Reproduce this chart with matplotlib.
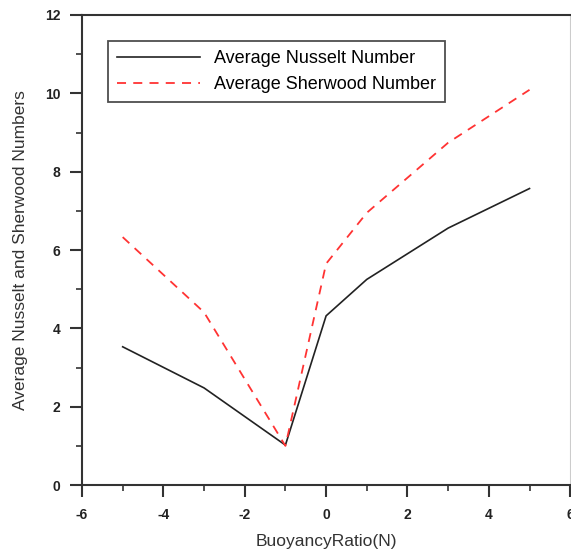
import numpy as np
import matplotlib.pyplot as plt
from matplotlib.ticker import MultipleLocator

# dados
razao_empuxo = [-5, -3, -1, 0, 1, 3, 5]
nusselt = [3.53, 2.48, 1.02, 4.32, 5.25, 6.56, 7.57]
sherwood = [6.33, 4.41, 1.0, 5.65, 6.95, 8.74, 10.09]

xticks = [-6, -4, -2, 0, 2, 4, 6]
yticks = [0, 2, 4, 6, 8, 10, 12]

plt.rcParams['font.family'] = ['Liberation Sans', 'DejaVu Sans']
plt.rcParams['axes.unicode_minus'] = False

fig = plt.figure(figsize=(5.71, 5.55), dpi=100)
ax = fig.add_axes([0.1436, 0.126, 0.855, 0.847])

ax.plot(razao_empuxo, nusselt, color='#222222', lw=1.2,
        label='Average Nusselt Number')
ax.plot(razao_empuxo, sherwood, color='#ff3333', lw=1.3, ls=(0, (5, 4)),
        label='Average Sherwood Number')

ax.set_xlim(-6, 6)
ax.set_ylim(0, 12)
ax.set_xticks(xticks)
ax.set_yticks(yticks)
ax.xaxis.set_minor_locator(MultipleLocator(1))
ax.yaxis.set_minor_locator(MultipleLocator(1))
ax.tick_params(which='major', direction='out', length=8.5, width=1.5,
               labelsize=10, colors='#333333')
ax.tick_params(axis='x', which='major', pad=8)
ax.tick_params(axis='y', which='major', pad=7)
ax.tick_params(which='minor', direction='out', length=4, width=1.2,
               colors='#333333')
for lbl in ax.get_xticklabels() + ax.get_yticklabels():
    lbl.set_fontweight('bold')
    lbl.set_color('#222222')

for lado in ['left', 'bottom', 'top']:
    ax.spines[lado].set_linewidth(1.5)
    ax.spines[lado].set_color('#333333')
ax.spines['right'].set_color('#cccccc')
ax.spines['right'].set_linewidth(0.8)

ax.set_xlabel('BuoyancyRatio(N)', fontsize=12.5, color='#333333', labelpad=9)
ax.set_ylabel('Average Nusselt and Sherwood Numbers', fontsize=12.5,
              color='#333333', labelpad=12)

leg = ax.legend(loc='upper left', bbox_to_anchor=(0.053, 0.945), fontsize=13,
                frameon=True, fancybox=False, edgecolor='#222222',
                handlelength=4.6, handletextpad=0.8, borderpad=0.5,
                labelspacing=0.5, borderaxespad=0)
leg.get_frame().set_linewidth(1.3)

fig.savefig('out.png')
